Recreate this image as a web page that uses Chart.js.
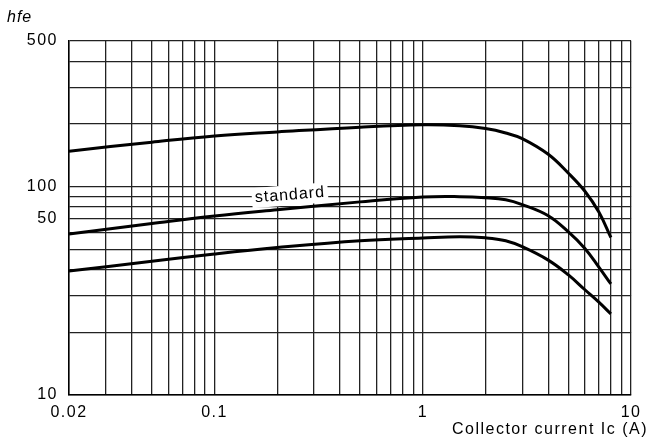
<!DOCTYPE html>
<html><head><meta charset="utf-8">
<script src="https://cdn.jsdelivr.net/npm/chart.js@4/dist/chart.umd.min.js"></script>
<style>html,body{margin:0;padding:0;background:#fff}#wrap{width:648px;height:441px}</style>
</head><body><div id="wrap"><canvas id="c" width="648" height="441"></canvas></div>
<script>
const current = [0.02,0.05,0.1,0.2,0.5,1,1.5,2,2.5,3,4,5,6,7,8];
const hfeHigh = [148,163.5,175,183,193,198,196,190,181,170,143,116,95,75.5,57];
const hfeStandard = [59.3,66.5,72.3,77.5,84.5,89.1,89.5,88.5,86.5,82,72.5,60.6,50.5,41.1,34.1];
const hfeLow = [39.4,43.8,47.5,51,55,56.7,57.5,56.8,55,51.5,44.4,37.7,32,27.9,24.5];
const xGrid = [0.02,0.03,0.04,0.05,0.06,0.07,0.08,0.09,0.1,0.2,0.3,0.4,0.5,0.6,0.7,0.8,0.9,1,2,3,4,5,6,7,8,9,10];
const yGrid = [10,20,30,40,50,60,70,80,90,100,200,300,400,500];
const xLabelValues = [0.02,0.1,1,10];
const xLabelTexts = ['0.02','0.1','1','10'];
const yLabelValues = [10,70,100,500];
const yLabelTexts = ['10','50','100','500'];
const yTitle = 'hfe';
const xTitle = 'Collector current Ic (A)';
const curveLabel = 'standard';
const curveLabelAt = {x:0.23, y:91};

function lbl(values, texts, v){
  for(let i=0;i<values.length;i++){ if(Math.abs(values[i]-v)/values[i] < 1e-6) return texts[i]; }
  return '';
}
const FONT = "'Liberation Sans', Arial, sans-serif";
const mk = (arr)=>current.map((x,i)=>({x:x,y:arr[i]}));
const ds = (name, arr)=>({label:name, data:mk(arr), borderColor:'#000', borderWidth:3, pointRadius:0, tension:0.4, fill:false});

const deco = {
  id:'deco',
  beforeDraw(chart){ chart.ctx.letterSpacing='1.5px'; },
  afterDatasetsDraw(chart){
    const ctx=chart.ctx, xs=chart.scales.x, ys=chart.scales.y;
    ctx.save();
    ctx.letterSpacing='1px';
    const px=xs.getPixelForValue(curveLabelAt.x), py=ys.getPixelForValue(curveLabelAt.y);
    ctx.translate(px,py); ctx.rotate(-4.5*Math.PI/180);
    ctx.font='16px '+FONT;
    const w=ctx.measureText(curveLabel).width;
    ctx.fillStyle='#fff'; ctx.fillRect(-w/2-3,-10,w+6,20);
    ctx.fillStyle='#000'; ctx.textAlign='center'; ctx.textBaseline='middle';
    ctx.fillText(curveLabel,0,0);
    ctx.restore();
  },
  afterDraw(chart){
    const ctx=chart.ctx;
    ctx.save();
    ctx.fillStyle='#000';
    ctx.letterSpacing='1px';
    ctx.font='italic 16px '+FONT; ctx.textAlign='left'; ctx.textBaseline='middle';
    ctx.fillText(yTitle,7,18);
    ctx.letterSpacing='1.5px';
    ctx.font='16px '+FONT; ctx.textAlign='right';
    ctx.fillText(xTitle,648,430);
    ctx.restore();
    ctx.letterSpacing='0px';
  }
};

new Chart(document.getElementById('c'),{
  type:'line',
  data:{datasets:[ds('high',hfeHigh),ds(curveLabel,hfeStandard),ds('low',hfeLow)]},
  options:{
    responsive:false, animation:false, devicePixelRatio:1,
    layout:{padding:{top:41,right:15,left:0,bottom:0}},
    plugins:{legend:{display:false},tooltip:{enabled:false}},
    scales:{
      x:{type:'logarithmic',min:0.02,max:10,
        afterBuildTicks(s){ s.ticks=xGrid.map(v=>({value:v})); },
        afterFit(s){ s.height=46; },
        grid:{color:'#222',lineWidth:1.3,drawTicks:false},
        border:{color:'#000',width:1.5},
        ticks:{autoSkip:false,maxRotation:0,padding:8,color:'#000',font:{family:FONT,size:16},
          callback:(v)=>lbl(xLabelValues,xLabelTexts,v)}},
      y:{type:'logarithmic',min:10,max:500,
        afterBuildTicks(s){ s.ticks=yGrid.map(v=>({value:v})); },
        afterFit(s){ s.width=69; },
        grid:{color:'#222',lineWidth:1.3,drawTicks:false},
        border:{color:'#000',width:1.5},
        ticks:{autoSkip:false,padding:11,color:'#000',font:{family:FONT,size:16},
          callback:(v)=>lbl(yLabelValues,yLabelTexts,v)}}
    }
  },
  plugins:[deco]
});
</script></body></html>
